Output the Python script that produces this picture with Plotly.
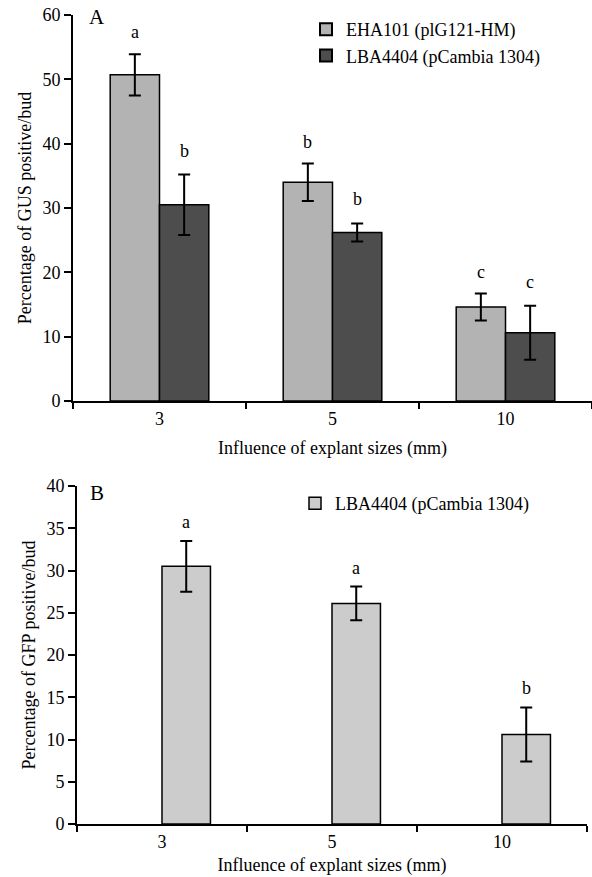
import plotly.graph_objects as go

# ---- data ----
sizes = ["3", "5", "10"]
gus_eha101 = [50.7, 34.0, 14.6]
gus_eha101_err = [3.2, 2.9, 2.1]
gus_eha101_sig = ["a", "b", "c"]
gus_lba4404 = [30.5, 26.2, 10.6]
gus_lba4404_err = [4.7, 1.4, 4.2]
gus_lba4404_sig = ["b", "b", "c"]
gfp_lba4404 = [30.5, 26.1, 10.6]
gfp_lba4404_err = [3.0, 2.0, 3.2]
gfp_lba4404_sig = ["a", "a", "b"]

name_eha = "EHA101 (plG121-HM)"
name_lba = "LBA4404 (pCambia 1304)"

FONT = "Liberation Serif, Times New Roman, serif"
FS = 18
BW = 0.285  # bar width (fraction of category)

W, H = 592, 877
def px_x(p):
    return p / W
def px_y(p):
    return 1 - p / H

fig = go.Figure()

eb = dict(type="data", visible=True, color="black", thickness=2, width=6)

fig.add_trace(go.Bar(
    x=sizes, y=gus_eha101, name=name_eha, xaxis="x", yaxis="y",
    offset=-BW, width=BW,
    marker=dict(color="#b3b3b3", line=dict(color="black", width=1.5)),
    error_y=dict(array=gus_eha101_err, **eb), legend="legend",
))
fig.add_trace(go.Bar(
    x=sizes, y=gus_lba4404, name=name_lba, xaxis="x", yaxis="y",
    offset=0, width=BW,
    marker=dict(color="#4d4d4d", line=dict(color="black", width=1.5)),
    error_y=dict(array=gus_lba4404_err, **eb), legend="legend",
))
fig.add_trace(go.Bar(
    x=sizes, y=gfp_lba4404, name=name_lba, xaxis="x2", yaxis="y2",
    offset=0, width=BW,
    marker=dict(color="#cccccc", line=dict(color="black", width=1.5)),
    error_y=dict(array=gfp_lba4404_err, **eb), legend="legend2",
))

annotations = []
def add_sig(vals, errs, sigs, off, xref, yref, shift):
    for i, (v, e, s) in enumerate(zip(vals, errs, sigs)):
        annotations.append(dict(
            x=i + off, y=v + e, xref=xref, yref=yref, text=s,
            showarrow=False, yanchor="middle", yshift=shift,
            font=dict(family=FONT, size=FS, color="black"),
        ))

add_sig(gus_eha101, gus_eha101_err, gus_eha101_sig, -BW / 2, "x", "y", 22)
add_sig(gus_lba4404, gus_lba4404_err, gus_lba4404_sig, BW / 2, "x", "y", 24)
add_sig(gfp_lba4404, gfp_lba4404_err, gfp_lba4404_sig, BW / 2, "x2", "y2", 19)

annotations.append(dict(x=px_x(97), y=px_y(17), xref="paper", yref="paper",
                        text="A", showarrow=False, xanchor="center", yanchor="middle",
                        font=dict(family=FONT, size=21, color="black")))
annotations.append(dict(x=px_x(97), y=px_y(493), xref="paper", yref="paper",
                        text="B", showarrow=False, xanchor="center", yanchor="middle",
                        font=dict(family=FONT, size=21, color="black")))

def xaxis_cfg(standoff):
    return dict(
        type="category", showline=True, linecolor="black", linewidth=2,
        ticks="outside", tickson="boundaries", ticklen=6, tickwidth=2, tickcolor="black",
        showgrid=False, zeroline=False, automargin=False,
        tickfont=dict(family=FONT, size=FS, color="black"),
        title=dict(text="Influence of explant sizes (mm)", standoff=standoff,
                   font=dict(family=FONT, size=FS, color="black")),
    )

def yaxis_cfg(title):
    return dict(
        showline=True, linecolor="black", linewidth=2,
        ticks="outside", ticklen=7, tickwidth=2, tickcolor="black",
        showgrid=False, zeroline=False, automargin=False,
        ticklabeloverflow="allow",
        tickfont=dict(family=FONT, size=FS, color="black"),
        title=dict(text=title, standoff=6, font=dict(family=FONT, size=FS, color="black")),
    )

fig.update_layout(
    width=W, height=H,
    margin=dict(l=0, r=0, t=0, b=0),
    paper_bgcolor="white", plot_bgcolor="white",
    barmode="group",
    showlegend=True,
    xaxis=dict(domain=[px_x(73), 1.0], anchor="y", **xaxis_cfg(14)),
    yaxis=dict(domain=[px_y(401), px_y(15)], anchor="x", range=[0, 60], dtick=10,
               **yaxis_cfg("Percentage of GUS positive/bud")),
    xaxis2=dict(domain=[px_x(77), px_x(587)], anchor="y2", **xaxis_cfg(8)),
    yaxis2=dict(domain=[px_y(824), px_y(486)], anchor="x2", range=[0, 40], dtick=5,
                **yaxis_cfg("Percentage of GFP positive/bud")),
    legend=dict(x=px_x(306), y=px_y(11), xanchor="left", yanchor="top",
                bgcolor="rgba(0,0,0,0)", font=dict(family=FONT, size=FS, color="black"),
                tracegroupgap=0, itemsizing="constant"),
    legend2=dict(x=px_x(295), y=px_y(485), xanchor="left", yanchor="top",
                 bgcolor="rgba(0,0,0,0)", font=dict(family=FONT, size=FS, color="black")),
    annotations=annotations,
)

fig.write_html("out.html", config={"displayModeBar": False},
               post_script="document.body.style.margin='0';")
